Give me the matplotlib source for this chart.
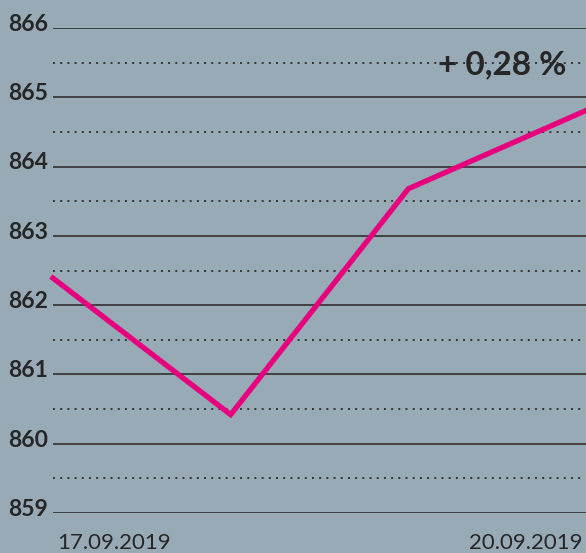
import numpy as np
import matplotlib.pyplot as plt
import matplotlib.transforms as mtransforms

# data
dates = ["17.09.2019", "18.09.2019", "19.09.2019", "20.09.2019"]
values = [862.39, 860.42, 863.68, 864.81]
y_ticks = [859, 860, 861, 862, 863, 864, 865, 866]
y_half = [859.5, 860.5, 861.5, 862.5, 863.5, 864.5, 865.5]
change_label = "+ 0,28 %"

bg = "#98aab5"
pink = "#e6007e"
ink = "#262626"

plt.rcParams['font.family'] = ['Lato', 'DejaVu Sans']

fig = plt.figure(figsize=(5.86, 5.53), dpi=100, facecolor=bg)
ax = fig.add_axes([0.0904, 0.0723, 0.9096, 0.877])
ax.set_facecolor(bg)

x = np.arange(len(values))

for v in y_ticks:
    ax.axhline(v, color="#383838", lw=1.3, zorder=1)
for v in y_half:
    ax.axhline(v, xmax=0.995, color="#333333", lw=1.4, linestyle=(0, (1, 2.7)), zorder=1)

ax.plot(x, values, color=pink, lw=3.8, solid_joinstyle="miter", zorder=3, clip_on=False)

ax.set_xlim(0, len(values) - 1)
ax.set_ylim(859, 866)
ax.set_xticks([])
ax.set_yticks([])
for s in ax.spines.values():
    s.set_visible(False)

# y labels, sitting on the solid lines
trans = mtransforms.blended_transform_factory(ax.transAxes, ax.transData)
for v in y_ticks:
    ax.text(-0.009, v - 0.04, str(v), transform=trans, ha="right", va="baseline",
            fontsize=16.5, fontweight="bold", color=ink, clip_on=False)

# first and last date under the axis
ax.text(0.007, -0.075, dates[0], transform=ax.transAxes, ha="left", va="baseline",
        fontsize=16, color=ink, clip_on=False)
ax.text(0.994, -0.075, dates[-1], transform=ax.transAxes, ha="right", va="baseline",
        fontsize=16, color=ink, clip_on=False)

ax.text(0.964, 865.33, change_label, transform=trans, ha="right", va="baseline",
        fontsize=24, fontweight="bold", color=ink)

fig.savefig("out.png", dpi=100, facecolor=bg)
plt.close(fig)
